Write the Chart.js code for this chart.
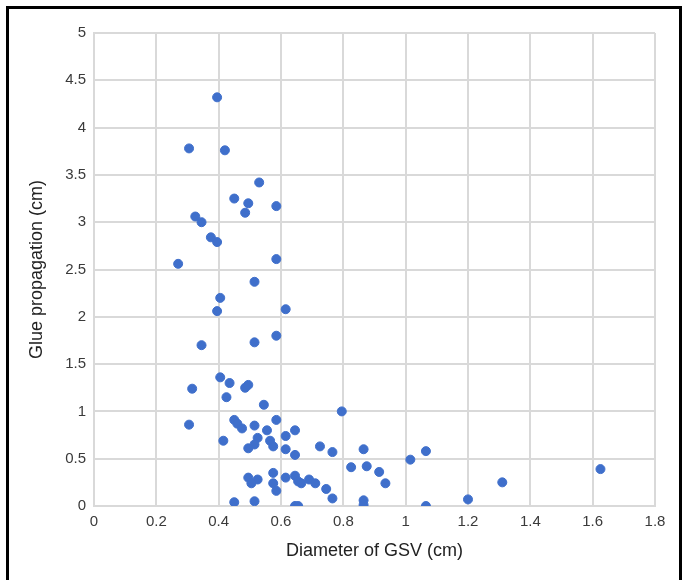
<!DOCTYPE html>
<html lang="en">
<head>
    <meta charset="UTF-8">
    <title>Glue propagation vs GSV diameter</title>
    <script src="https://cdn.jsdelivr.net/npm/chart.js"></script>
    <style>
        html, body { margin: 0; padding: 0; background: #fff; overflow: hidden; }
        .frame { position: absolute; left: 6px; top: 6px; width: 670px; height: 600px; border: 3px solid #000; }
        .chart-container { position: absolute; left: 0; top: 0; width: 684px; height: 580px; }
    </style>
</head>
<body>
    <div class="frame"></div>
    <div class="chart-container">
        <canvas id="scatterChart"></canvas>
    </div>

    <script>
        // diameter of GSV (cm) and glue propagation (cm)
        const diameter = [
            0.395, 0.305, 0.42, 0.53, 0.45, 0.495, 0.485, 0.585, 0.325, 0.345, 0.375, 0.395, 0.27, 0.585,
            0.515, 0.405, 0.395, 0.615, 0.585, 0.515, 0.345,
            0.405, 0.435, 0.485, 0.495, 0.315, 0.425, 0.545, 0.795,
            0.305, 0.45, 0.46, 0.475, 0.515, 0.585, 0.555, 0.645, 0.525, 0.615, 0.415, 0.565, 0.575, 0.515, 0.495, 0.615, 0.645,
            0.725, 0.765, 0.865, 0.825, 0.875, 0.915, 0.935, 1.015, 1.065,
            0.575, 0.495, 0.525, 0.505, 0.615, 0.645, 0.655, 0.665, 0.575, 0.585, 0.69, 0.71, 0.745, 0.765,
            0.45, 0.515, 0.645, 0.655, 0.865, 0.865, 1.065, 1.20, 1.31, 1.625
        ];
        const propagation = [
            4.32, 3.78, 3.76, 3.42, 3.25, 3.20, 3.10, 3.17, 3.06, 3.00, 2.84, 2.79, 2.56, 2.61,
            2.37, 2.20, 2.06, 2.08, 1.80, 1.73, 1.70,
            1.36, 1.30, 1.25, 1.28, 1.24, 1.15, 1.07, 1.00,
            0.86, 0.91, 0.87, 0.82, 0.85, 0.91, 0.80, 0.80, 0.72, 0.74, 0.69, 0.69, 0.63, 0.65, 0.61, 0.60, 0.54,
            0.63, 0.57, 0.60, 0.41, 0.42, 0.36, 0.24, 0.49, 0.58,
            0.35, 0.30, 0.28, 0.24, 0.30, 0.32, 0.26, 0.24, 0.24, 0.16, 0.28, 0.24, 0.18, 0.08,
            0.04, 0.05, 0.00, 0.00, 0.06, 0.01, 0.00, 0.07, 0.25, 0.39
        ];
        const xTitle = 'Diameter of GSV (cm)';
        const yTitle = 'Glue propagation (cm)';

        const points = diameter.map((d, i) => ({ x: d, y: propagation[i] }));
        const gridColor = '#d9d9d9';
        const tickColor = '#3a3a3a';
        const fontFamily = 'Arial, "Liberation Sans", sans-serif';

        const ctx = document.getElementById('scatterChart').getContext('2d');
        new Chart(ctx, {
            type: 'scatter',
            data: {
                datasets: [{
                    data: points,
                    backgroundColor: '#3f6fcb',
                    borderColor: '#3f6fcb',
                    pointRadius: 4.5,
                    pointHoverRadius: 4.5
                }]
            },
            options: {
                responsive: true,
                maintainAspectRatio: false,
                animation: false,
                layout: { padding: { left: 22, right: 29, top: 33, bottom: 14 } },
                plugins: { legend: { display: false }, tooltip: { enabled: false } },
                scales: {
                    x: {
                        type: 'linear',
                        min: 0,
                        max: 1.8,
                        afterFit: s => { s.height = 60; },
                        grid: { color: gridColor, lineWidth: 2, drawTicks: false },
                        border: { color: gridColor, width: 2 },
                        ticks: {
                            stepSize: 0.2,
                            padding: 7,
                            color: tickColor,
                            font: { family: fontFamily, size: 15 },
                            callback: v => Number(v.toFixed(1)).toString()
                        },
                        title: {
                            display: true,
                            text: xTitle,
                            color: '#222',
                            font: { family: fontFamily, size: 18 },
                            padding: { top: 5 }
                        }
                    },
                    y: {
                        type: 'linear',
                        min: 0,
                        max: 5,
                        afterFit: s => { s.width = 72; },
                        grid: { color: gridColor, lineWidth: 2, drawTicks: false },
                        border: { color: gridColor, width: 2 },
                        ticks: {
                            stepSize: 0.5,
                            padding: 8,
                            color: tickColor,
                            font: { family: fontFamily, size: 15 },
                            callback: v => Number(v.toFixed(1)).toString()
                        },
                        title: {
                            display: true,
                            text: yTitle,
                            color: '#222',
                            font: { family: fontFamily, size: 18 },
                            padding: { bottom: 4 }
                        }
                    }
                }
            }
        });
    </script>
</body>
</html>
